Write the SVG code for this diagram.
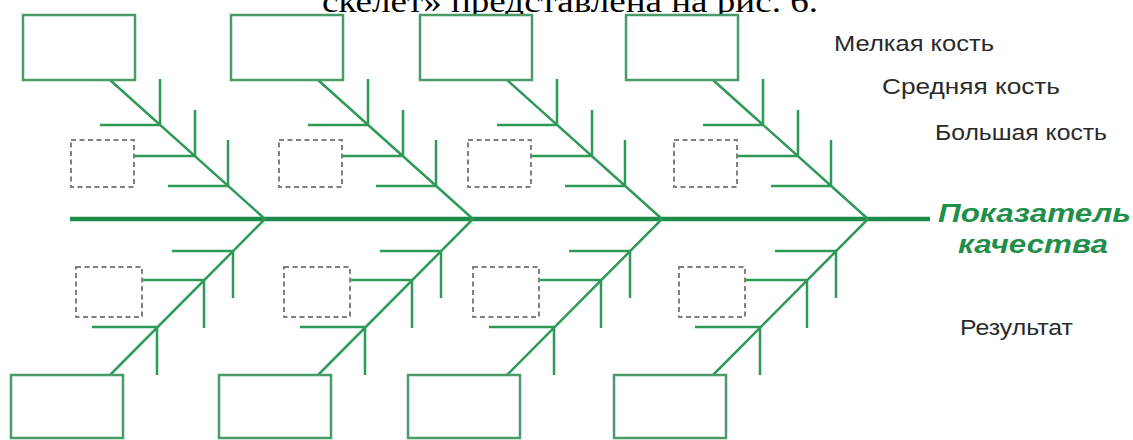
<svg xmlns="http://www.w3.org/2000/svg" width="1133" height="440" viewBox="0 0 1133 440">
<style>
.box{fill:#ffffff;stroke:#4a9a6a;stroke-width:2.5}
.dash{fill:none;stroke:#808080;stroke-width:2;stroke-dasharray:5 3.5}
.bone{fill:none;stroke:#2f9a58;stroke-width:2.5;stroke-linecap:butt}
.spine{fill:none;stroke:#1f8c4c;stroke-width:4.5}
.lbl{font-family:"Liberation Sans",Arial,sans-serif;font-size:22px;fill:#2a2a2a}
.res{font-family:"Liberation Sans",Arial,sans-serif;font-size:26px;font-weight:bold;font-style:italic;fill:#1f8f4a}
.cap{font-family:"Liberation Serif","Times New Roman",serif;font-size:32px;fill:#000000}
</style>
<rect width="1133" height="440" fill="#ffffff"/>
<text class="cap" x="322" y="12" textLength="496" lengthAdjust="spacingAndGlyphs">скелет» представлена на рис. 6.</text>

<g id="connectors">
<path class="spine" d="M70 219 H930"/>
<path class="bone" d="M110 80 L265 219 M100 125 H160 M134 156 H195 M168 186 H228 M160 79 V125 M195 110 V156 M228 140 V186"/>
<path class="bone" d="M265 219 L110 375 M172 251 H233 M142 280 H204 M92 327 H157 M233 251 V298 M204 280 V328 M157 327 V375"/>
<path class="bone" d="M318 80 L473 219 M308 125 H368 M342 156 H403 M376 186 H436 M368 79 V125 M403 110 V156 M436 140 V186"/>
<path class="bone" d="M473 219 L318 375 M380 251 H441 M350 280 H412 M300 327 H365 M441 251 V298 M412 280 V328 M365 327 V375"/>
<path class="bone" d="M507 80 L662 219 M497 125 H557 M531 156 H592 M565 186 H625 M557 79 V125 M592 110 V156 M625 140 V186"/>
<path class="bone" d="M662 219 L507 375 M569 251 H630 M539 280 H601 M489 327 H554 M630 251 V298 M601 280 V328 M554 327 V375"/>
<path class="bone" d="M713 80 L868 219 M703 125 H763 M737 156 H798 M771 186 H831 M763 79 V125 M798 110 V156 M831 140 V186"/>
<path class="bone" d="M868 219 L713 375 M775 251 H836 M745 280 H807 M695 327 H760 M836 251 V298 M807 280 V328 M760 327 V375"/>
</g>

<g id="top-cause-1"><rect class="box" x="23" y="15" width="112" height="65"/></g>
<g id="top-cause-2"><rect class="box" x="231" y="15" width="112" height="65"/></g>
<g id="top-cause-3"><rect class="box" x="420" y="15" width="112" height="65"/></g>
<g id="top-cause-4"><rect class="box" x="626" y="15" width="112" height="65"/></g>

<g id="bottom-cause-1"><rect class="box" x="11" y="375" width="112" height="63"/></g>
<g id="bottom-cause-2"><rect class="box" x="219" y="375" width="112" height="63"/></g>
<g id="bottom-cause-3"><rect class="box" x="408" y="375" width="112" height="63"/></g>
<g id="bottom-cause-4"><rect class="box" x="614" y="375" width="112" height="63"/></g>

<g id="top-sub-1"><rect class="dash" x="71" y="140" width="63" height="47"/></g>
<g id="top-sub-2"><rect class="dash" x="279" y="140" width="63" height="47"/></g>
<g id="top-sub-3"><rect class="dash" x="468" y="140" width="63" height="47"/></g>
<g id="top-sub-4"><rect class="dash" x="674" y="140" width="63" height="47"/></g>

<g id="bottom-sub-1"><rect class="dash" x="76" y="267" width="66" height="50"/></g>
<g id="bottom-sub-2"><rect class="dash" x="284" y="267" width="66" height="50"/></g>
<g id="bottom-sub-3"><rect class="dash" x="473" y="267" width="66" height="50"/></g>
<g id="bottom-sub-4"><rect class="dash" x="679" y="267" width="66" height="50"/></g>

<g id="legend-small"><text class="lbl" x="834" y="51" textLength="160" lengthAdjust="spacingAndGlyphs">Мелкая кость</text></g>
<g id="legend-medium"><text class="lbl" x="882" y="94" textLength="178" lengthAdjust="spacingAndGlyphs">Средняя кость</text></g>
<g id="legend-large"><text class="lbl" x="935" y="140" textLength="172" lengthAdjust="spacingAndGlyphs">Большая кость</text></g>
<g id="head"><text class="res" x="938" y="222" textLength="193" lengthAdjust="spacingAndGlyphs">Показатель</text><text class="res" x="958" y="253" textLength="150" lengthAdjust="spacingAndGlyphs">качества</text></g>
<g id="legend-result"><text class="lbl" x="960" y="335" textLength="113" lengthAdjust="spacingAndGlyphs">Результат</text></g>
</svg>
